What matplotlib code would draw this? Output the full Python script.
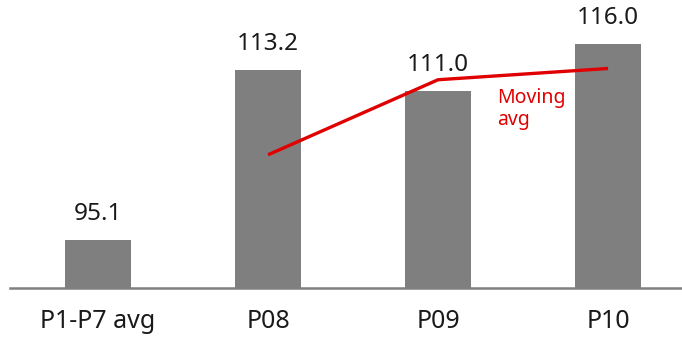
import matplotlib.pyplot as plt

categories = ["P1-P7 avg", "P08", "P09", "P10"]
values = [95.1, 113.2, 111.0, 116.0]
value_labels = ["95.1", "113.2", "111.0", "116.0"]
moving_avg_x = [1, 2, 3]
moving_avg = [104.2, 112.2, 113.4]

plt.rcParams['font.family'] = ['Noto Sans', 'DejaVu Sans']

fig = plt.figure(figsize=(6.82, 3.37), dpi=100)
ax = fig.add_axes([10 / 682, 49 / 337, 672 / 682, 288 / 337])

x = list(range(len(categories)))
ax.bar(x, values, width=0.39, color="#7f7f7f", bottom=0)
ax.set_xlim(-0.518, 3.435)
ax.set_ylim(90, 120.7)

for xi, v, lab in zip(x, values, value_labels):
    ax.annotate(lab, (xi, v), xytext=(0, 10), textcoords="offset points",
                ha="center", va="bottom", fontsize=17.5, color="#1a1a1a")

ax.plot(moving_avg_x, moving_avg, color="#e00000", linewidth=2.4,
        solid_capstyle="butt")
ax.text(2.35, 111.3, "Moving\navg", color="#e00000", fontsize=14,
        ha="left", va="top", linespacing=1.1)

ax.set_xticks(x)
ax.set_xticklabels(categories, fontsize=18, color="#1a1a1a")
ax.tick_params(axis="x", length=0, pad=15)
ax.set_yticks([])
for s in ["top", "right", "left"]:
    ax.spines[s].set_visible(False)
ax.spines["bottom"].set_color("#808080")
ax.spines["bottom"].set_linewidth(1.8)

fig.savefig("out.png", dpi=100)
